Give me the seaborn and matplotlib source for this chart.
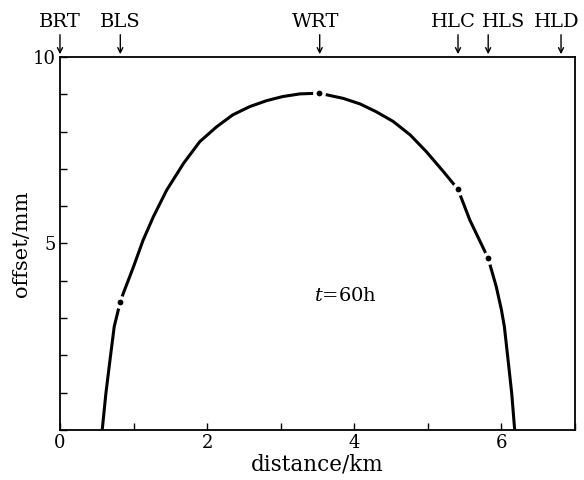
import matplotlib
matplotlib.use("Agg")
import matplotlib.pyplot as plt
import seaborn as sns
import pandas as pd

# Offset profile along the section at t = 60 h
curve_distance = [0.574, 0.624, 0.68, 0.737, 0.82, 0.86, 1.00, 1.13, 1.27, 1.45,
                  1.68, 1.90, 2.13, 2.35, 2.58, 2.81, 3.03, 3.26, 3.52, 3.85,
                  4.08, 4.30, 4.53, 4.76, 4.98, 5.21, 5.41, 5.57, 5.82, 5.93,
                  6.00, 6.04, 6.09, 6.14, 6.18]
curve_offset = [0.0, 0.98, 1.88, 2.77, 3.44, 3.66, 4.38, 5.09, 5.72, 6.43,
                7.15, 7.73, 8.13, 8.45, 8.67, 8.83, 8.94, 9.01, 9.03, 8.89,
                8.74, 8.53, 8.27, 7.91, 7.46, 6.93, 6.45, 5.63, 4.60, 3.84,
                3.22, 2.77, 1.88, 0.98, 0.0]

# Measured stations
station_distance = [0.82, 3.52, 5.41, 5.82]
station_offset = [3.44, 9.03, 6.45, 4.60]

# Reference sites marked above the frame
site_names = ["BRT", "BLS", "WRT", "HLC", "HLS", "HLD"]
site_distance = [0.0, 0.82, 3.53, 5.41, 5.82, 6.81]

x_tick_labels = ["0", "", "2", "", "4", "", "6", ""]
y_tick_labels = ["", "", "", "", "", "5", "", "", "", "", "10"]

sns.set_theme(style="ticks")
plt.rcParams["font.family"] = ["DejaVu Serif"]
plt.rcParams["mathtext.fontset"] = "dejavuserif"
plt.rcParams["text.color"] = "black"
plt.rcParams["axes.labelcolor"] = "black"

fig = plt.figure(figsize=(5.84, 4.8), dpi=100)
ax = fig.add_axes([0.1027, 0.1042, 0.8819, 0.7771])

curve = pd.DataFrame({"distance": curve_distance, "offset": curve_offset})
stations = pd.DataFrame({"distance": station_distance, "offset": station_offset})

sns.lineplot(data=curve, x="distance", y="offset", sort=False, ax=ax,
             color="black", linewidth=2.2, zorder=2,
             solid_joinstyle="round", solid_capstyle="round")
sns.scatterplot(data=stations, x="distance", y="offset", ax=ax,
                color="black", s=45, edgecolor="white", linewidth=2.5, zorder=3)

ax.set_xlim(0, 7)
ax.set_ylim(0, 10)
ax.set_xticks(range(0, 8))
ax.set_xticklabels(x_tick_labels)
ax.set_yticks(range(0, 11))
ax.set_yticklabels(y_tick_labels)
ax.tick_params(direction="in", length=5, width=1, labelsize=13, colors="black", pad=3)
ax.tick_params(axis="x", pad=3)
for s in ax.spines.values():
    s.set_linewidth(1.3)
    s.set_color("black")
    s.set_visible(True)

ax.set_xlabel("distance/km", fontsize=15.5, labelpad=1, color="black")
ax.set_ylabel("offset/mm", fontsize=15, labelpad=1, color="black")

ax.text(3.88, 3.6, r"$t$=60h", fontsize=14, ha="center", va="center", color="black")

# horizontal nudges (points) so neighbouring site names do not collide
label_shift = [0, 0, -3, -3, 11, -3]
for name, d, dx in zip(site_names, site_distance, label_shift):
    ax.annotate("", xy=(d, 1.0), xycoords=("data", "axes fraction"),
                xytext=(0, 16), textcoords="offset points",
                arrowprops=dict(arrowstyle="->", color="black", lw=1,
                                shrinkA=0, shrinkB=2, mutation_scale=9))
    ax.annotate(name, xy=(d, 1.0), xycoords=("data", "axes fraction"),
                xytext=(dx, 19), textcoords="offset points", color="black",
                ha="center", va="bottom", fontsize=14, annotation_clip=False)

fig.savefig("out.png", dpi=100, facecolor="white")
